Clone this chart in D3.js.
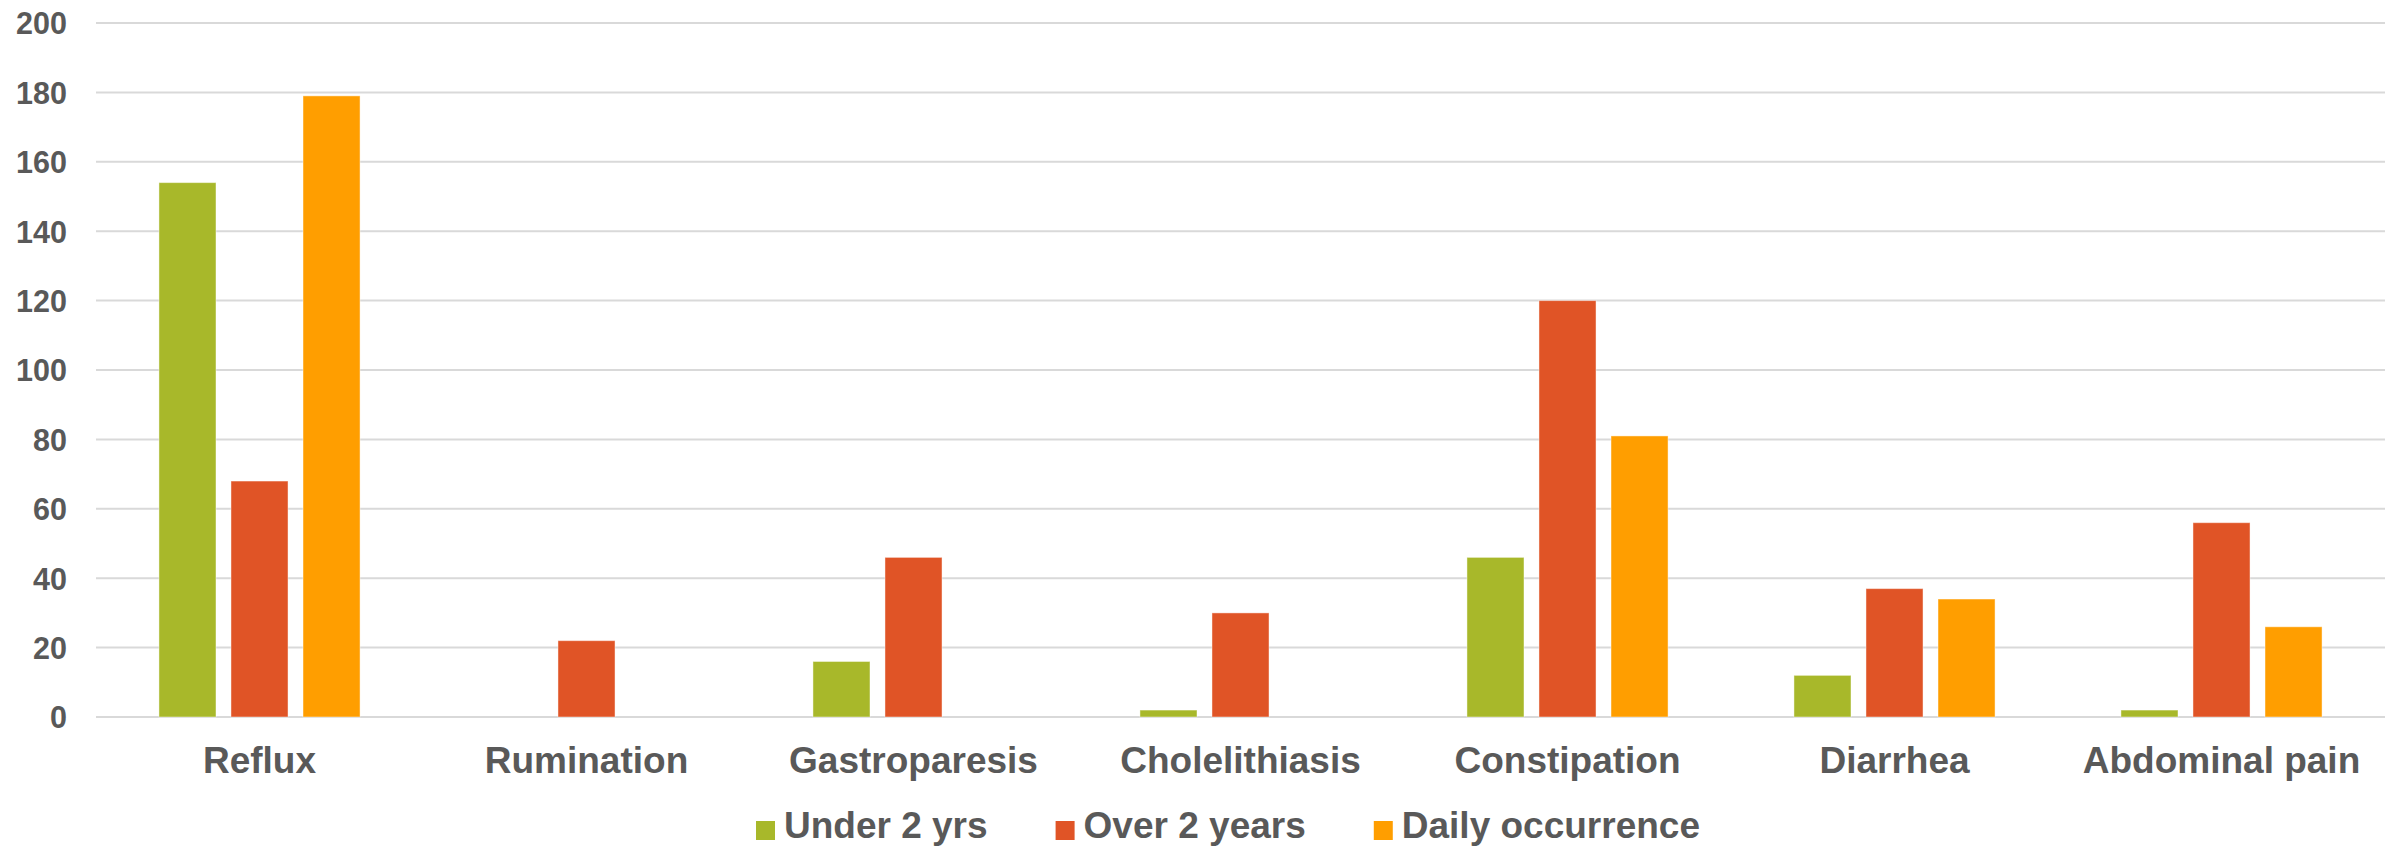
<!DOCTYPE html>
<html>
<head>
<meta charset="utf-8">
<script src="https://cdn.jsdelivr.net/npm/d3@7"></script>
<style>
  html, body { margin: 0; padding: 0; background: #ffffff; }
  svg { display: block; }
  text { font-family: "Liberation Sans", Arial, sans-serif; font-weight: bold; fill: #595959; }
</style>
</head>
<body>
<svg id="chart" width="2400" height="849"></svg>
<script>
// Symptom categories and counts per group
const categories = ["Reflux", "Rumination", "Gastroparesis", "Cholelithiasis", "Constipation", "Diarrhea", "Abdominal pain"];
const seriesNames = ["Under 2 yrs", "Over 2 years", "Daily occurrence"];
const under2 = [154, 0, 16, 2, 46, 12, 2];
const over2 = [68, 22, 46, 30, 120, 37, 56];
const daily = [179, 0, 0, 0, 81, 34, 26];
const yTicks = [0, 20, 40, 60, 80, 100, 120, 140, 160, 180, 200];
const colors = ["#A8B82A", "#E05426", "#FF9E00"];

const seriesValues = [under2, over2, daily];

const svg = d3.select("#chart");
const plot = { left: 96, right: 2385, top: 23, bottom: 717 };

const x = d3.scaleBand()
  .domain(categories)
  .range([plot.left, plot.right])
  .paddingInner(0.385)
  .paddingOuter(0.1925);

const xInner = d3.scaleBand()
  .domain(seriesNames)
  .range([0, x.bandwidth()])
  .paddingInner(0.208)
  .paddingOuter(0);

const y = d3.scaleLinear()
  .domain([0, 200])
  .range([plot.bottom, plot.top]);

const color = d3.scaleOrdinal().domain(seriesNames).range(colors);

// Horizontal gridlines
svg.append("g")
  .selectAll("line")
  .data(yTicks)
  .join("line")
  .attr("x1", plot.left)
  .attr("x2", plot.right)
  .attr("y1", d => y(d))
  .attr("y2", d => y(d))
  .attr("stroke", "#d9d9d9")
  .attr("stroke-width", 2);

// Y axis labels
const yAxis = d3.axisLeft(y).tickValues(yTicks).tickSize(0).tickPadding(0);
const yG = svg.append("g")
  .attr("transform", `translate(67,0)`)
  .call(yAxis);
yG.select(".domain").remove();
yG.selectAll("text")
  .attr("font-size", "30.5px")
  .attr("font-family", "'Liberation Sans', Arial, sans-serif")
  .attr("font-weight", "bold")
  .attr("fill", "#595959")
  .attr("dy", "0.36em");

// Bars
const rows = categories.map((c, i) => ({
  category: c,
  values: seriesNames.map((s, j) => ({ series: s, value: seriesValues[j][i] }))
}));

const groups = svg.append("g")
  .selectAll("g")
  .data(rows)
  .join("g")
  .attr("transform", d => `translate(${x(d.category)},0)`);

groups.selectAll("rect")
  .data(d => d.values.filter(v => v.value > 0))
  .join("rect")
  .attr("x", d => xInner(d.series))
  .attr("width", xInner.bandwidth())
  .attr("y", d => y(d.value))
  .attr("height", d => y(0) - y(d.value))
  .attr("fill", d => color(d.series))
  .attr("stroke", "rgba(255,255,255,0.45)")
  .attr("stroke-width", 1);

// Category labels
const xAxis = d3.axisBottom(x).tickSize(0).tickPadding(0);
const xG = svg.append("g")
  .attr("transform", `translate(0,773)`)
  .call(xAxis);
xG.select(".domain").remove();
xG.selectAll("text")
  .attr("font-size", "37px")
  .attr("font-family", "'Liberation Sans', Arial, sans-serif")
  .attr("font-weight", "bold")
  .attr("fill", "#595959")
  .attr("dy", 0)
  .attr("y", 0);

// Legend
const legend = svg.append("g").attr("transform", "translate(756,0)");
let lx = 0;
seriesNames.forEach((s, i) => {
  const item = legend.append("g").attr("transform", `translate(${lx},0)`);
  item.append("rect")
    .attr("x", 0)
    .attr("y", 821)
    .attr("width", 19)
    .attr("height", 19)
    .attr("fill", color(s));
  const t = item.append("text")
    .attr("x", 28)
    .attr("y", 838)
    .attr("font-size", "37px")
    .text(s);
  lx += 28 + t.node().getComputedTextLength() + 68;
});
</script>
</body>
</html>
